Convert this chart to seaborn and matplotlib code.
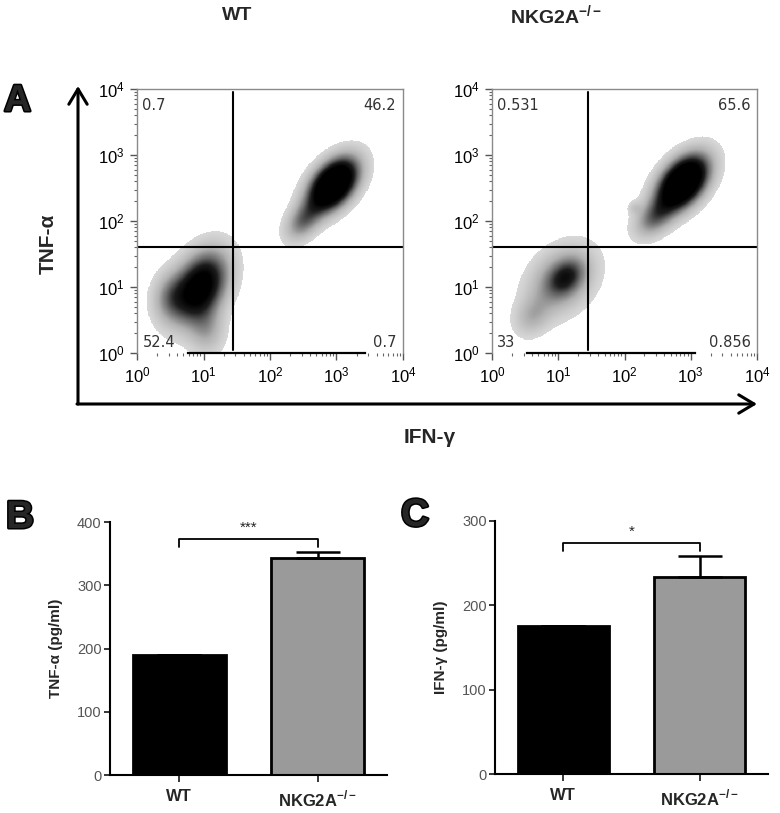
import numpy as np
import pandas as pd
import matplotlib
matplotlib.use("Agg")
import matplotlib.pyplot as plt
import matplotlib.patheffects as pe
from matplotlib import font_manager
from matplotlib.patches import FancyArrowPatch
from matplotlib.colors import LinearSegmentedColormap, Normalize
import seaborn as sns

# ----- data -----
samples = ["WT", r"NKG2A$^{\mathregular{-/-}}$"]

# quadrant percentages: UL, UR, LL, LR
wt_quadrants = ["0.7", "46.2", "52.4", "0.7"]
ko_quadrants = ["0.531", "65.6", "33", "0.856"]

# quadrant gate (IFN-g, TNF-a) in linear units
gate_x = 28
gate_y = 40

# density components, log10 units: centre x, centre y, sd x, sd y, corr, weight
wt_cx = [0.95, 0.50, 1.05, 2.95, 2.50]
wt_cy = [1.00, 0.85, 0.35, 2.55, 2.00]
wt_sx = [0.27, 0.18, 0.18, 0.24, 0.18]
wt_sy = [0.35, 0.25, 0.25, 0.26, 0.20]
wt_rho = [0.35, 0.10, 0.00, 0.45, 0.40]
wt_w = [0.40, 0.06, 0.05, 0.38, 0.06]

ko_cx = [1.05, 1.12, 0.60, 2.88, 2.45, 2.15]
ko_cy = [1.10, 1.15, 0.55, 2.58, 2.05, 2.20]
ko_sx = [0.32, 0.17, 0.18, 0.25, 0.20, 0.07]
ko_sy = [0.33, 0.17, 0.20, 0.27, 0.20, 0.07]
ko_rho = [0.30, 0.30, 0.20, 0.45, 0.40, 0.00]
ko_w = [0.24, 0.05, 0.04, 0.50, 0.08, 0.003]

# ELISA
tnf_mean = [190, 343]
tnf_sem = [0.5, 10]
ifn_mean = [175, 234]
ifn_sem = [1, 25]

bar_colors = ["#000000", "#9a9a9a"]

names = {f.name for f in font_manager.fontManager.ttflist}
narrow = "Liberation Sans Narrow" if "Liberation Sans Narrow" in names else "Liberation Sans"

sns.set_style("ticks")
plt.rcParams["font.family"] = ["Liberation Sans", "DejaVu Sans"]

W, H = 780, 813
fig = plt.figure(figsize=(W / 100, H / 100), dpi=100)


def fx(px):
    return px / W


def fy(py):
    return 1 - py / H


def box(left, top, right, bottom):
    return [fx(left), fy(bottom), (right - left) / W, (bottom - top) / H]


flow_cmap = LinearSegmentedColormap.from_list(
    "flow", ["#d8d8d8", "#b0b0b0", "#6a6a6a", "#1c1c1c", "#000000"])


def density(cx, cy, sx, sy, rho, w):
    g = np.linspace(0, 4, 500)
    GX, GY = np.meshgrid(g, g)
    d = np.zeros_like(GX)
    for i in range(len(cx)):
        dx = (GX - cx[i]) / sx[i]
        dy = (GY - cy[i]) / sy[i]
        z = (dx ** 2 - 2 * rho[i] * dx * dy + dy ** 2) / (2 * (1 - rho[i] ** 2))
        d += w[i] / (2 * np.pi * sx[i] * sy[i] * np.sqrt(1 - rho[i] ** 2)) * np.exp(-z)
    return 10 ** GX, 10 ** GY, d / d.max()


def flow_panel(ax, comps, quads, bottom_bounds):
    X, Y, d = density(*comps)
    thr = 0.035
    dm = np.ma.masked_less(d, thr)
    ax.pcolormesh(X, Y, dm, cmap=flow_cmap, norm=Normalize(thr, 0.55),
                  shading="auto", rasterized=True)
    ax.set_xscale("log")
    ax.set_yscale("log")
    ax.set_xlim(1, 1e4)
    ax.set_ylim(1, 1e4)
    ax.axvline(gate_x, ymin=0.01, ymax=0.99, color="black", lw=1.5)
    ax.axhline(gate_y, xmin=0.0, xmax=1.0, color="black", lw=1.5)
    for s in ["top", "right", "left"]:
        ax.spines[s].set_color("#8a8a8a")
        ax.spines[s].set_linewidth(1)
    ax.spines["bottom"].set_color("black")
    ax.spines["bottom"].set_linewidth(1.6)
    ax.spines["bottom"].set_bounds(*bottom_bounds)
    ax.tick_params(which="major", length=5, width=1, color="#555555",
                   labelsize=12, labelcolor="black", pad=4)
    ax.tick_params(which="minor", length=2.5, width=0.8, color="#666666")
    ax.set_xticks([1, 10, 100, 1000, 10000])
    ax.set_yticks([1, 10, 100, 1000, 10000])
    kw = dict(transform=ax.transAxes, fontsize=10.5, color="#333333",
              family="DejaVu Sans")
    ax.text(0.02, 0.965, quads[0], ha="left", va="top", **kw)
    ax.text(0.975, 0.965, quads[1], ha="right", va="top", **kw)
    ax.text(0.02, 0.01, quads[2], ha="left", va="bottom", **kw)
    ax.text(0.975, 0.01, quads[3], ha="right", va="bottom", **kw)


ax_wt = fig.add_axes(box(137, 89, 403, 353))
flow_panel(ax_wt, (wt_cx, wt_cy, wt_sx, wt_sy, wt_rho, wt_w), wt_quadrants, (5.9, 2700))
ax_ko = fig.add_axes(box(492, 89, 757, 353))
flow_panel(ax_ko, (ko_cx, ko_cy, ko_sx, ko_sy, ko_rho, ko_w), ko_quadrants, (3.4, 1150))

# outer arrows
arrow = dict(arrowstyle="->,head_length=0.5,head_width=0.3", lw=2.2, color="black",
             shrinkA=0, shrinkB=0, mutation_scale=22, transform=fig.transFigure)
fig.add_artist(FancyArrowPatch((fx(78), fy(404)), (fx(78), fy(86)), **arrow))
fig.add_artist(FancyArrowPatch((fx(77), fy(404)), (fx(757), fy(404)), **arrow))

fig.text(fx(237), fy(16), "WT", ha="center", va="center", fontsize=14, fontweight="bold")
fig.text(fx(556), fy(16), r"NKG2A$^{\mathregular{-/-}}$", ha="center", va="center",
         fontsize=14, fontweight="bold")
fig.text(fx(48), fy(244), "TNF-α", ha="center", va="center", rotation=90,
         fontsize=15, fontweight="bold")
fig.text(fx(430), fy(437), "IFN-γ", ha="center", va="center", fontsize=15,
         fontweight="bold")

stroke = [pe.withStroke(linewidth=2.2, foreground="black")]
fig.text(fx(4), fy(101), "A", ha="left", va="center", fontsize=27, fontweight="bold",
         path_effects=stroke)
fig.text(fx(6), fy(518), "B", ha="left", va="center", fontsize=28, fontweight="bold",
         path_effects=stroke)
fig.text(fx(401), fy(516), "C", ha="left", va="center", fontsize=28, fontweight="bold",
         path_effects=stroke)


def bar_panel(ax, means, sems, ymax, step, ylabel, stars):
    df = pd.DataFrame({"group": samples, "value": means})
    sns.barplot(data=df, x="group", y="value", hue="group", palette=bar_colors,
                width=0.67, edgecolor="black", linewidth=2, errorbar=None,
                legend=False, ax=ax)
    for patch, m, s in zip(ax.patches, means, sems):
        xc = patch.get_x() + patch.get_width() / 2
        ax.errorbar(xc, m, yerr=[[0], [s]], color="black", capsize=16,
                    elinewidth=1.8, capthick=1.8, zorder=1)
    top = max(m + s for m, s in zip(means, sems))
    yb = top + 0.05 * ymax
    ax.plot([0, 0, 1, 1], [yb - 0.03 * ymax, yb, yb, yb - 0.03 * ymax],
            color="black", lw=1.3)
    ax.text(0.5, yb + 0.045 * ymax, stars, ha="center", va="center", fontsize=11,
            family=narrow)
    ax.set_xlim(-0.5, 1.5)
    ax.set_ylim(0, ymax)
    ax.set_yticks(np.arange(0, ymax + 1, step))
    sns.despine(ax=ax)
    for s in ["left", "bottom"]:
        ax.spines[s].set_linewidth(1.5)
        ax.spines[s].set_color("black")
    ax.tick_params(axis="y", length=4, width=1.3, labelsize=10.5,
                   labelcolor="#555555", pad=2)
    ax.tick_params(axis="x", length=5, width=1.3, labelsize=12, pad=5)
    for t in ax.get_yticklabels():
        t.set_family(narrow)
    for t in ax.get_xticklabels():
        t.set_family(narrow)
        t.set_fontweight("bold")
    ax.set_xlabel("")
    ax.set_ylabel(ylabel, fontsize=11, fontweight="bold", labelpad=10)


ax_b = fig.add_axes(box(110, 522, 387, 775))
bar_panel(ax_b, tnf_mean, tnf_sem, 400, 100, "TNF-α (pg/ml)", "***")
ax_c = fig.add_axes(box(495, 521, 768, 774))
bar_panel(ax_c, ifn_mean, ifn_sem, 300, 100, "IFN-γ (pg/ml)", "*")

fig.savefig("out.png", dpi=100)
